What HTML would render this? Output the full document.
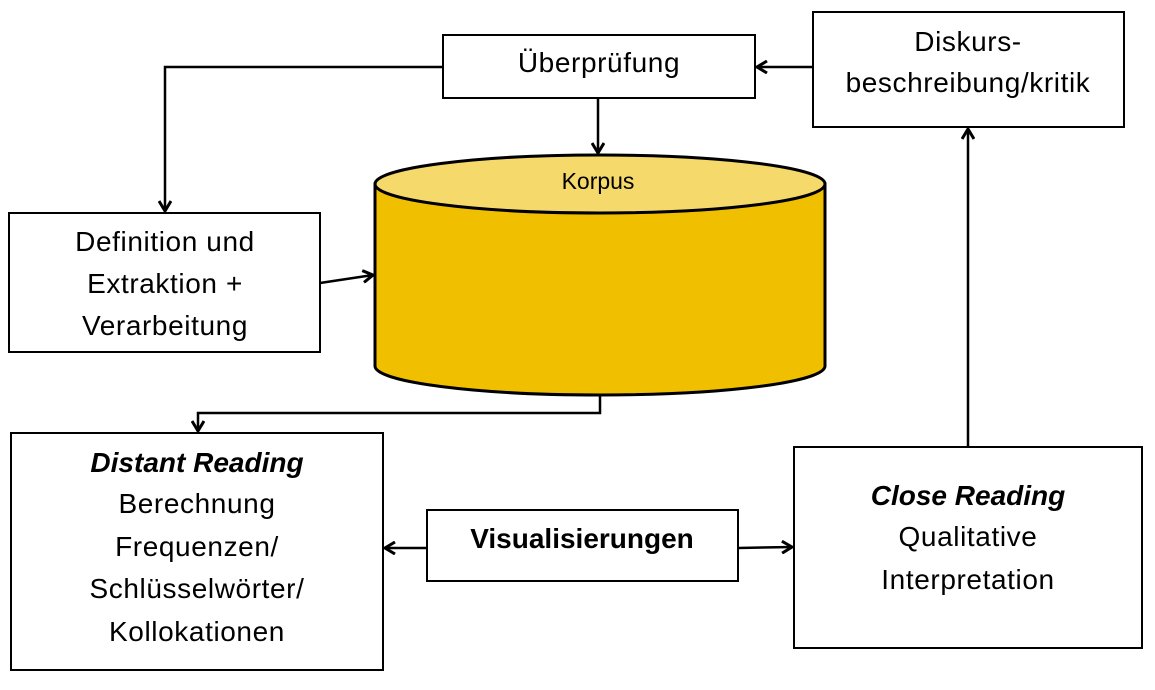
<!DOCTYPE html>
<html><head><meta charset="utf-8"><style>
body{margin:0;background:#fff;width:1155px;height:685px;overflow:hidden}
</style></head><body>
<svg width="1155" height="685" xmlns="http://www.w3.org/2000/svg" font-family="Liberation Sans, sans-serif" fill="none">
<defs><marker id="a" markerWidth="14" markerHeight="14" refX="11" refY="7" orient="auto" markerUnits="userSpaceOnUse"><path d="M1,1 L11,7 L1,13" stroke="#000" stroke-width="3" fill="none"/></marker></defs>
<g stroke="#000" stroke-width="2" fill="#fff">
<rect x="443" y="35" width="312" height="63"/>
<rect x="813" y="12" width="311" height="115"/>
<rect x="9" y="213" width="311" height="139"/>
<rect x="11" y="433" width="372" height="237"/>
<rect x="427" y="510" width="311" height="71"/>
<rect x="794" y="447" width="348" height="201"/>
</g>
<path d="M375,184 L375,366 A225,29 0 0 0 825,366 L825,184 Z" fill="#F0C000" stroke="#000" stroke-width="3"/>
<ellipse cx="600" cy="184" rx="225" ry="29" fill="#F5D96A" stroke="#000" stroke-width="3"/>
<g stroke="#000" stroke-width="2.5">
<path d="M443,67 H165 V211" marker-end="url(#a)"/>
<path d="M598,98 V153" marker-end="url(#a)"/>
<path d="M813,67 H757" marker-end="url(#a)"/>
<path d="M320,283 L373,275" marker-end="url(#a)"/>
<path d="M600,395 V413 H198 V431" marker-end="url(#a)"/>
<path d="M427,548 H385" marker-end="url(#a)"/>
<path d="M738,548 L792,547" marker-end="url(#a)"/>
<path d="M968,447 V129" marker-end="url(#a)"/>
</g>
<g fill="#000" font-size="28" letter-spacing="0.6" text-anchor="middle">
<text x="599" y="72">Überprüfung</text>
<text x="968" y="51">Diskurs-</text>
<text x="968" y="92">beschreibung/kritik</text>
<text x="598" y="189" font-size="23" letter-spacing="0">Korpus</text>
<text x="165" y="251">Definition und</text>
<text x="165" y="293">Extraktion +</text>
<text x="165" y="335">Verarbeitung</text>
<text x="197" y="472" font-weight="bold" font-style="italic" letter-spacing="0">Distant Reading</text>
<text x="197" y="513">Berechnung</text>
<text x="197" y="556">Frequenzen/</text>
<text x="197" y="598">Schlüsselwörter/</text>
<text x="197" y="641">Kollokationen</text>
<text x="582" y="548" font-weight="bold" letter-spacing="0">Visualisierungen</text>
<text x="968" y="505" font-weight="bold" font-style="italic" letter-spacing="0">Close Reading</text>
<text x="968" y="546">Qualitative</text>
<text x="968" y="589">Interpretation</text>
</g>
</svg>
</body></html>
